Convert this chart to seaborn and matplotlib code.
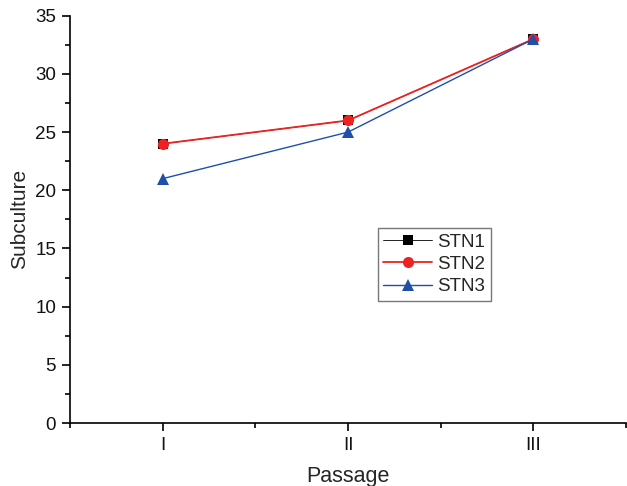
import matplotlib
matplotlib.use("Agg")
import matplotlib.pyplot as plt
from matplotlib.ticker import MultipleLocator
import pandas as pd
import seaborn as sns

passages = ["I", "II", "III"]
positions = [1, 2, 3]
stn1 = [24, 26, 33]
stn2 = [24, 26, 33]
stn3 = [21, 25, 33]

sns.set_theme(style="ticks")
plt.rcParams["font.family"] = ["Liberation Sans", "DejaVu Sans"]

series = {"STN1": stn1, "STN2": stn2, "STN3": stn3}
colors = {"STN1": "#000000", "STN2": "#ee2222", "STN3": "#1f4fa6"}
markers = {"STN1": "s", "STN2": "o", "STN3": "^"}
msizes = {"STN1": 6.5, "STN2": 8, "STN3": 8.5}
lwidths = {"STN1": 0.6, "STN2": 1.3, "STN3": 1.0}

fig = plt.figure(figsize=(6.27, 4.86), dpi=100)
ax = fig.add_axes([0.1116, 0.1296, 0.887, 0.838])
for name, vals in series.items():
    df = pd.DataFrame({"pos": positions, "value": vals})
    sns.lineplot(data=df, x="pos", y="value", color=colors[name],
                 marker=markers[name], markersize=msizes[name],
                 markeredgewidth=0, linewidth=lwidths[name], label=name, ax=ax)

ax.set_xlim(0.5, 3.5)
ax.set_ylim(0, 35)
ax.set_xticks(positions)
ax.set_xticklabels(passages)
ax.xaxis.set_minor_locator(MultipleLocator(0.5))
ax.yaxis.set_major_locator(MultipleLocator(5))
ax.yaxis.set_minor_locator(MultipleLocator(2.5))
ax.tick_params(which="major", length=6, width=1.2, labelsize=13.5,
               color="black", labelcolor="#111111", pad=4)
ax.tick_params(which="minor", length=3.5, width=1.2, color="black")
for side in ["top", "right"]:
    ax.spines[side].set_visible(False)
for side in ["left", "bottom"]:
    ax.spines[side].set_linewidth(1.2)
    ax.spines[side].set_color("black")

ax.set_xlabel("Passage", fontsize=15.5, labelpad=9)
ax.set_ylabel("Subculture", fontsize=15, labelpad=4)

leg = ax.legend(loc="upper left", bbox_to_anchor=(0.553, 0.479), fontsize=13.5,
                frameon=True, fancybox=False, borderpad=0.3, handlelength=2.6,
                handletextpad=0.3, labelspacing=0.28, borderaxespad=0)
leg.get_frame().set_edgecolor("#555555")
leg.get_frame().set_linewidth(1)

fig.savefig("out.png", dpi=100)
